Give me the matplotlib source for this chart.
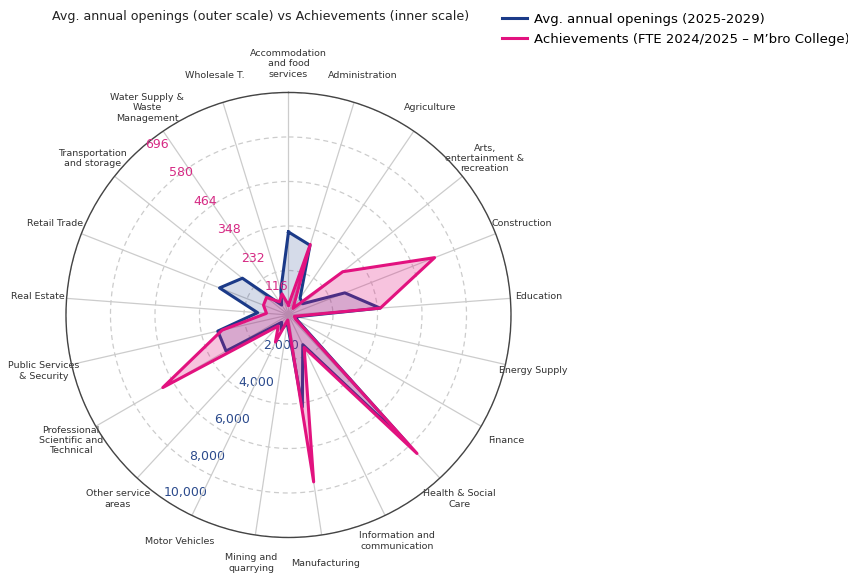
import numpy as np
import matplotlib
matplotlib.use("Agg")
import matplotlib.pyplot as plt

# sectors, clockwise from the top
categories = [
    "Accommodation\nand food\nservices", "Administration", "Agriculture",
    "Arts,\nentertainment &\nrecreation", "Construction", "Education",
    "Energy Supply", "Finance", "Health & Social\nCare",
    "Information and\ncommunication", "Manufacturing", "Mining and\nquarrying",
    "Motor Vehicles", "Other service\nareas", "Professional\nScientific and\nTechnical",
    "Public Services\n& Security", "Real Estate", "Retail Trade",
    "Transportation\nand storage", "Water Supply &\nWaste\nManagement", "Wholesale T.",
]

# avg. annual openings 2025-2029 (outer scale)
openings = [3730, 3280, 925, 810, 2720, 4130, 360, 450, 7900, 1480, 4180,
            360, 760, 450, 3240, 3260, 1390, 3330, 2650, 540, 1170]

# achievements FTE 2024/2025 (inner scale)
achievements = [31, 231, 25, 217, 491, 288, 19, 25, 591, 113, 528,
                16, 94, 47, 454, 213, 69, 84, 88, 50, 69]

outer_ticks = [2000, 4000, 6000, 8000, 10000]
outer_max = 10000
inner_ticks = [116, 232, 348, 464, 580, 696]
inner_max = 696

BLUE = "#1b3a88"
PINK = "#e2127f"

n = len(categories)
angles = np.linspace(0, 2 * np.pi, n, endpoint=False)
closed = np.append(angles, angles[0])

fig = plt.figure(figsize=(8.48, 5.74), dpi=100)
rect = [0.0778, 0.0636, 0.5248, 0.7753]
ax = fig.add_axes(rect, polar=True)
ax2 = fig.add_axes(rect, polar=True, frameon=False)
for a in (ax, ax2):
    a.set_theta_zero_location("N")
    a.set_theta_direction(-1)

ax.set_ylim(0, outer_max)
ax2.set_ylim(0, inner_max)

ax.set_xticks(angles)
ax.set_xticklabels(categories, fontsize=6.8, color="#333333")
ax.tick_params(axis="x", pad=13.5, length=0)
ax.set_yticks(outer_ticks)
ax.set_yticklabels([])
ax.xaxis.grid(True, color="#cccccc", lw=0.9)
ax.yaxis.grid(True, color="#cccccc", lw=0.9, ls=(0, (4, 3)))
ax.spines["polar"].set_color("#444444")
ax.spines["polar"].set_linewidth(1.0)

ax2.set_xticks([])
ax2.set_yticks([])
ax2.grid(False)
ax2.patch.set_visible(False)

# outer scale labels
for v in outer_ticks:
    ax.text(np.deg2rad(214), v, f"{v:,}", color="#2b4a8c", fontsize=9,
            ha="left", va="bottom", zorder=1)

# inner scale labels
for v in inner_ticks:
    ax2.text(np.deg2rad(320), v, f"{v}", color="#d62a84", fontsize=9,
             ha="left", va="center", zorder=1)

op = np.append(openings, openings[0])
ac = np.append(achievements, achievements[0])

l1, = ax.plot(closed, op, color=BLUE, lw=2.2, zorder=3)
ax.fill(closed, op, color=BLUE, alpha=0.18, zorder=2)
l2, = ax2.plot(closed, ac, color=PINK, lw=2.2, zorder=3)
ax2.fill(closed, ac, color=PINK, alpha=0.25, zorder=2)

fig.text(0.307, 0.972, "Avg. annual openings (outer scale) vs Achievements (inner scale)",
         ha="center", va="center", fontsize=9.1, color="#222222")

fig.legend([l1, l2], ["Avg. annual openings (2025-2029)",
                      "Achievements (FTE 2024/2025 \u2013 M\u2019bro College)"],
           loc="upper left", bbox_to_anchor=(0.592, 0.978), frameon=False,
           fontsize=9.5, borderaxespad=0, borderpad=0, handlelength=1.9,
           handletextpad=0.5, labelspacing=0.55)

fig.savefig("out.png", dpi=100)
